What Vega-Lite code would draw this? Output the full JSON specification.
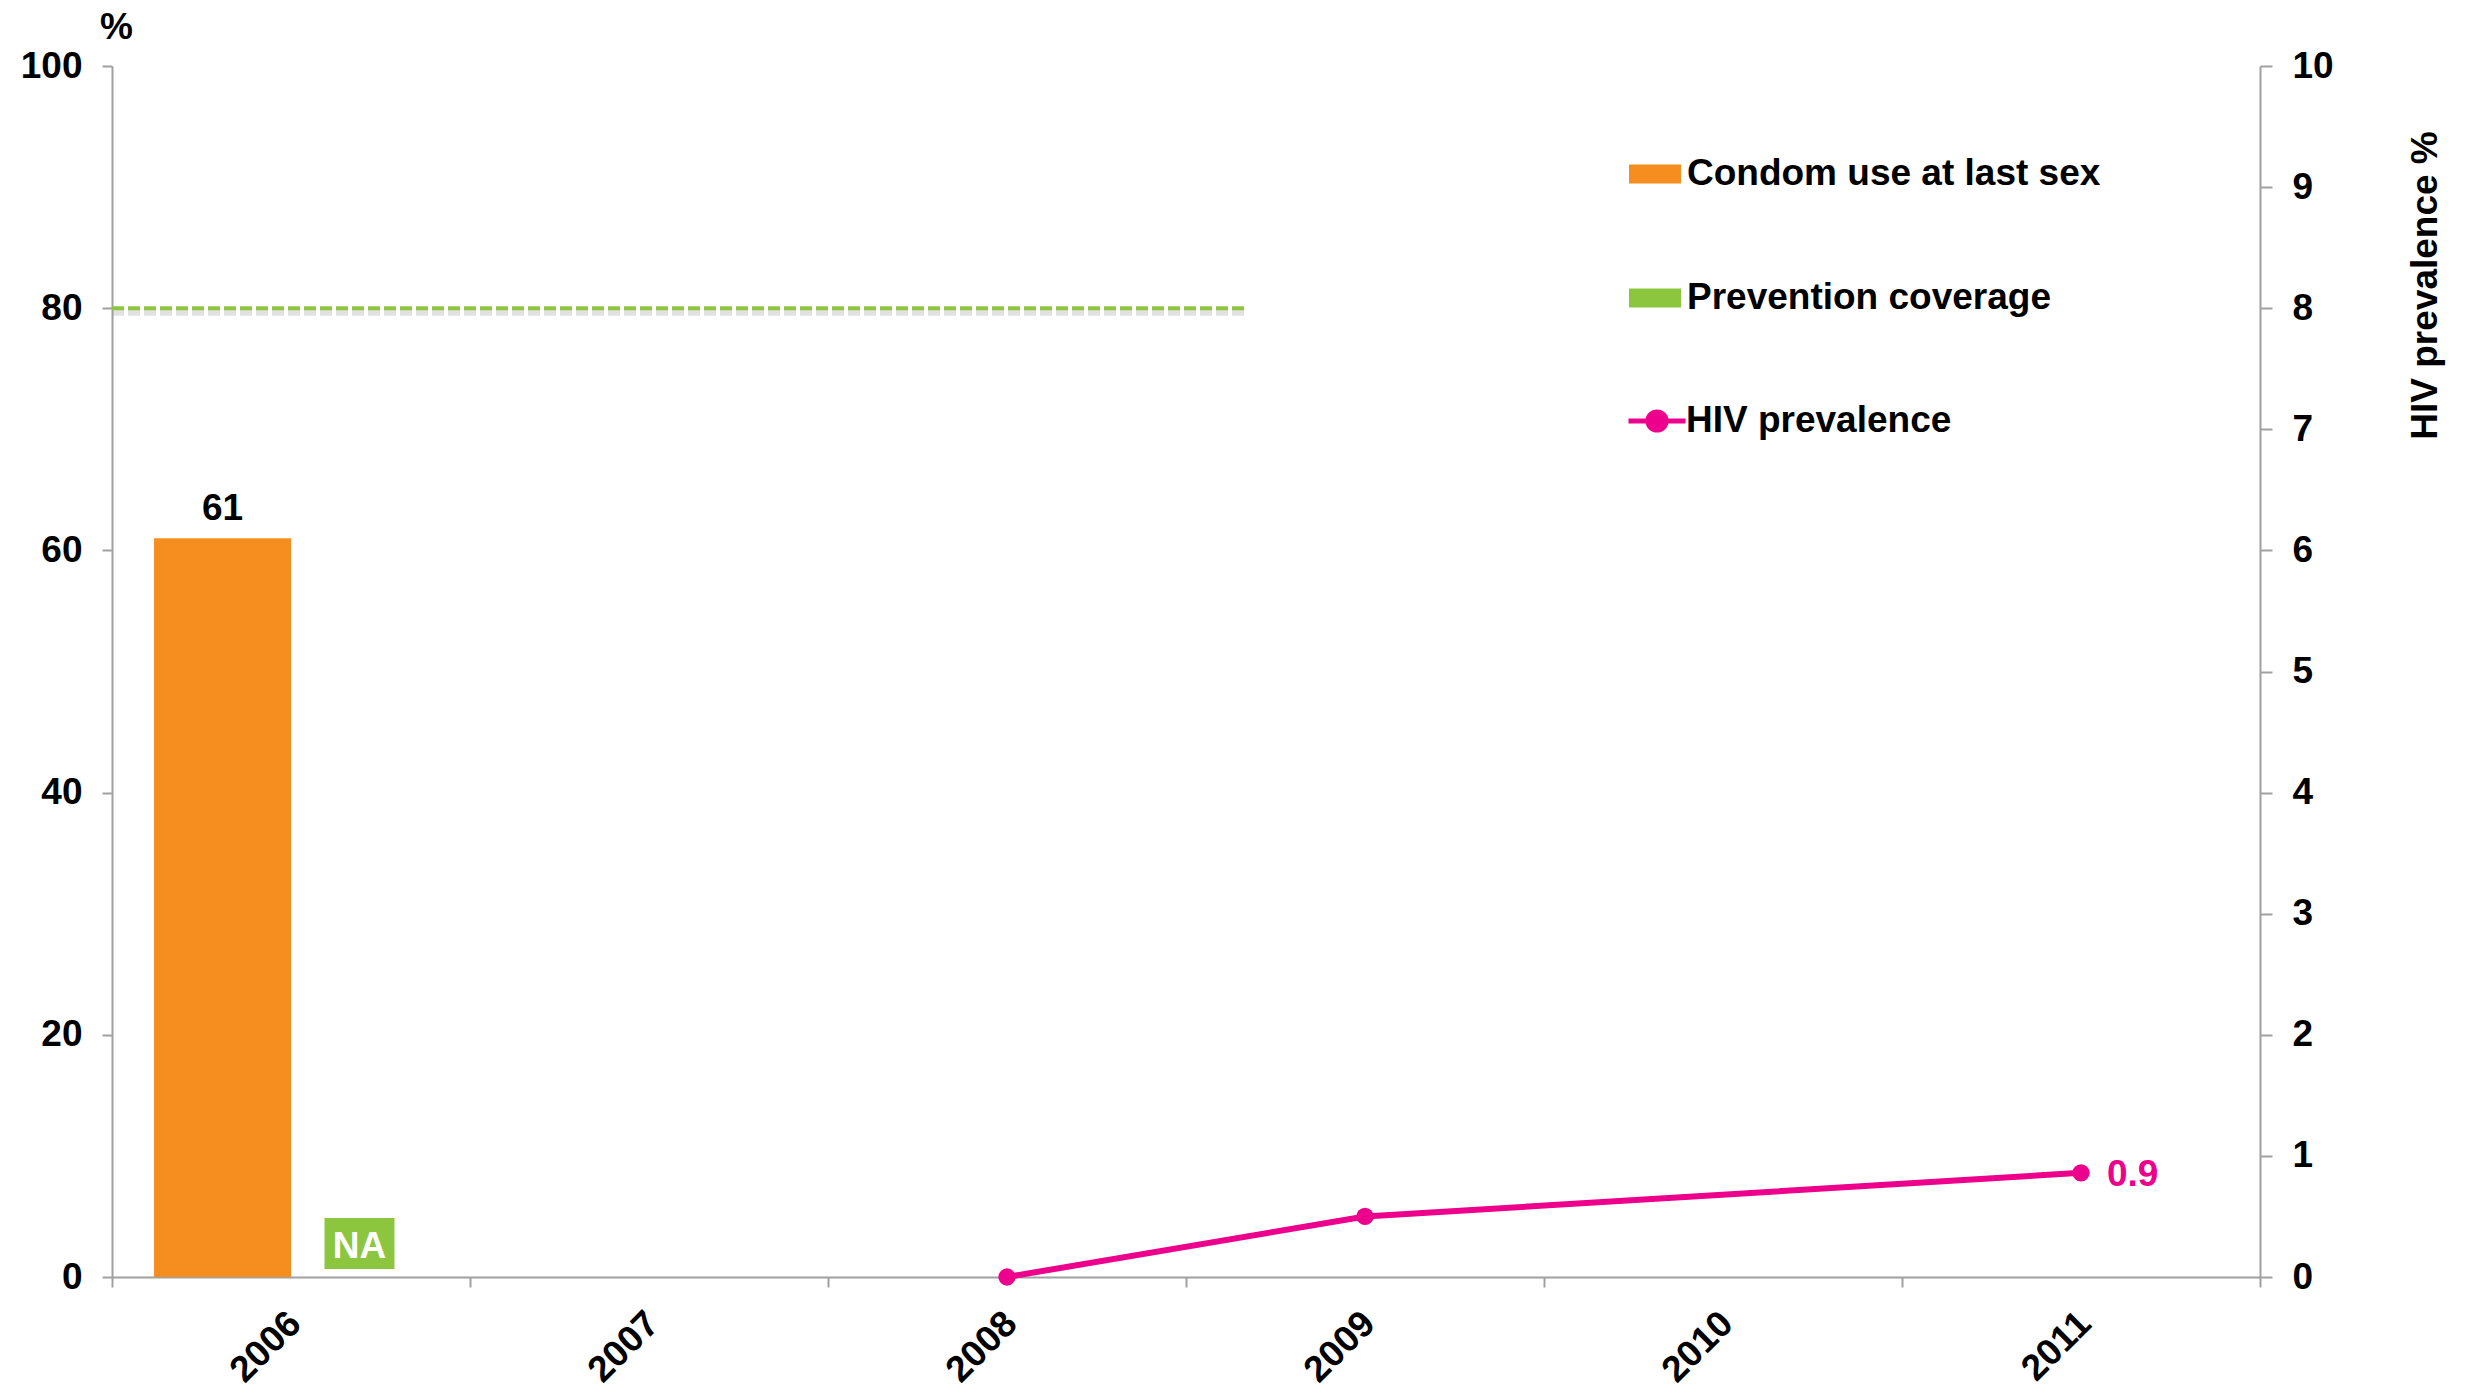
{
  "$schema": "https://vega.github.io/schema/vega-lite/v6.json",
  "width": 2148,
  "height": 1211,
  "autosize": {"type": "none"},
  "padding": {"left": 112, "top": 66, "right": 219, "bottom": 112},
  "background": "white",
  "config": {
    "view": {"stroke": null},
    "font": "Liberation Sans",
    "axis": {
      "labelFont": "Liberation Sans",
      "labelFontWeight": "bold",
      "labelFontSize": 37,
      "labelColor": "black",
      "domainColor": "#A0A0A0",
      "domainWidth": 2,
      "tickColor": "#A0A0A0",
      "tickWidth": 2,
      "grid": false,
      "titleFont": "Liberation Sans",
      "titleFontWeight": "bold",
      "titleFontSize": 37,
      "titleColor": "black"
    }
  },
  "datasets": {
    "condom": [{"year": "2006", "series": "Condom use at last sex", "value": 61, "label": "61"}],
    "coverage": [{"year": "2006", "series": "Prevention coverage", "label": "NA"}],
    "target": [{"start": "2006", "end": "2009", "target": 80}],
    "hiv": [
      {"year": "2008", "series": "HIV prevalence", "hiv": 0},
      {"year": "2009", "series": "HIV prevalence", "hiv": 0.5},
      {"year": "2011", "series": "HIV prevalence", "hiv": 0.86, "label": "0.9"}
    ]
  },
  "resolve": {"scale": {"y": "independent"}},
  "layer": [
    {
      "layer": [
        {
          "data": {"name": "condom"},
          "mark": {"type": "bar"},
          "encoding": {
            "x": {
              "field": "year", "type": "ordinal", "title": null,
              "scale": {"domain": ["2006", "2007", "2008", "2009", "2010", "2011"], "paddingInner": 0, "paddingOuter": 0},
              "axis": {"labelAngle": -45, "tickBand": "extent", "tickSize": 10, "labelPadding": 18, "labelOffset": -9}
            },
            "xOffset": {
              "field": "series", "type": "nominal",
              "scale": {"domain": ["Condom use at last sex", "Prevention coverage"], "paddingInner": 0, "paddingOuter": 0.307}
            },
            "y": {
              "field": "value", "type": "quantitative", "title": "%",
              "scale": {"domain": [0, 100]},
              "axis": {"values": [0, 20, 40, 60, 80, 100], "format": "d", "tickSize": 10, "labelPadding": 20,
                       "titleAngle": 0, "titleX": 4, "titleY": -28, "titleAlign": "center", "titleBaseline": "alphabetic"}
            },
            "color": {
              "field": "series", "type": "nominal",
              "scale": {"domain": ["Condom use at last sex", "Prevention coverage"], "range": ["#F68E1F", "#8CC63F"]},
              "legend": {
                "orient": "none", "legendX": 1517, "legendY": 82, "title": null,
                "symbolType": "M-1,-0.365H1V0.365H-1Z", "symbolSize": 2704, "symbolStrokeWidth": 0,
                "labelFont": "Liberation Sans", "labelFontSize": 37, "labelFontWeight": "bold", "labelColor": "black",
                "labelLimit": 1000, "labelOffset": 6, "rowPadding": 80
              }
            }
          }
        },
        {
          "data": {"name": "condom"},
          "mark": {"type": "text", "font": "Liberation Sans", "fontWeight": "bold", "fontSize": 37, "color": "black", "baseline": "alphabetic", "dy": -18},
          "encoding": {
            "x": {"field": "year", "type": "ordinal", "title": null},
            "xOffset": {"field": "series", "type": "nominal"},
            "y": {"field": "value", "type": "quantitative", "title": "%"},
            "text": {"field": "label"}
          }
        },
        {
          "data": {"name": "coverage"},
          "mark": {"type": "bar", "size": 70},
          "encoding": {
            "x": {"field": "year", "type": "ordinal", "title": null},
            "xOffset": {"field": "series", "type": "nominal"},
            "y": {"datum": 0.66, "type": "quantitative", "title": "%"},
            "y2": {"datum": 4.87},
            "color": {"field": "series", "type": "nominal"}
          }
        },
        {
          "data": {"name": "coverage"},
          "mark": {"type": "text", "font": "Liberation Sans", "fontWeight": "bold", "fontSize": 37, "color": "white", "baseline": "alphabetic"},
          "encoding": {
            "x": {"field": "year", "type": "ordinal", "title": null},
            "xOffset": {"field": "series", "type": "nominal"},
            "y": {"datum": 1.57, "type": "quantitative", "title": "%"},
            "text": {"field": "label"}
          }
        },
        {
          "data": {"name": "target"},
          "mark": {"type": "rule", "color": "#9A9A9A", "opacity": 0.3, "strokeWidth": 7, "strokeDash": [12, 4], "yOffset": 4},
          "encoding": {
            "x": {"field": "start", "type": "ordinal", "bandPosition": 0, "title": null},
            "x2": {"field": "end", "bandPosition": 0.17},
            "y": {"field": "target", "type": "quantitative", "title": "%"}
          }
        },
        {
          "data": {"name": "target"},
          "mark": {"type": "rule", "color": "#8CC63F", "strokeWidth": 4, "strokeDash": [12, 4]},
          "encoding": {
            "x": {"field": "start", "type": "ordinal", "bandPosition": 0, "title": null},
            "x2": {"field": "end", "bandPosition": 0.17},
            "y": {"field": "target", "type": "quantitative", "title": "%"}
          }
        }
      ]
    },
    {
      "data": {"name": "hiv"},
      "layer": [
        {
          "mark": {"type": "line", "strokeWidth": 6},
          "encoding": {
            "x": {"field": "year", "type": "ordinal", "title": null},
            "y": {
              "field": "hiv", "type": "quantitative", "title": "HIV prevalence %",
              "scale": {"domain": [0, 10]},
              "axis": {"orient": "right", "values": [0, 1, 2, 3, 4, 5, 6, 7, 8, 9, 10], "format": "d", "tickSize": 12, "labelPadding": 20,
                       "titleAngle": 270, "titleX": 165, "titleY": 219, "titleAlign": "center", "titleBaseline": "middle"}
            },
            "stroke": {
              "field": "series", "type": "nominal",
              "scale": {"domain": ["HIV prevalence"], "range": ["#EC008C"]},
              "legend": {
                "orient": "none", "legendX": 1514, "legendY": 324, "title": null,
                "symbolType": "M-1,0H1M-0.32,0A0.32,0.32 0 1,0 0.32,0A0.32,0.32 0 1,0 -0.32,0",
                "symbolSize": 3249, "symbolStrokeWidth": 5,
                "labelFont": "Liberation Sans", "labelFontSize": 37, "labelFontWeight": "bold", "labelColor": "black",
                "labelLimit": 1000, "labelOffset": -2,
                "encode": {"symbols": {"update": {"fill": {"value": "#EC008C"}, "fillOpacity": {"value": 1}}}}
              }
            }
          }
        },
        {
          "mark": {"type": "circle", "size": 300, "color": "#EC008C", "opacity": 1, "strokeWidth": 0},
          "encoding": {
            "x": {"field": "year", "type": "ordinal", "title": null},
            "y": {"field": "hiv", "type": "quantitative", "title": "HIV prevalence %"}
          }
        },
        {
          "transform": [{"filter": "isValid(datum.label)"}],
          "mark": {"type": "text", "font": "Liberation Sans", "fontWeight": "bold", "fontSize": 37, "color": "#EC008C", "align": "left", "baseline": "alphabetic", "dx": 26, "dy": 13},
          "encoding": {
            "x": {"field": "year", "type": "ordinal", "title": null},
            "y": {"field": "hiv", "type": "quantitative", "title": "HIV prevalence %"},
            "text": {"field": "label"}
          }
        }
      ]
    }
  ]
}
